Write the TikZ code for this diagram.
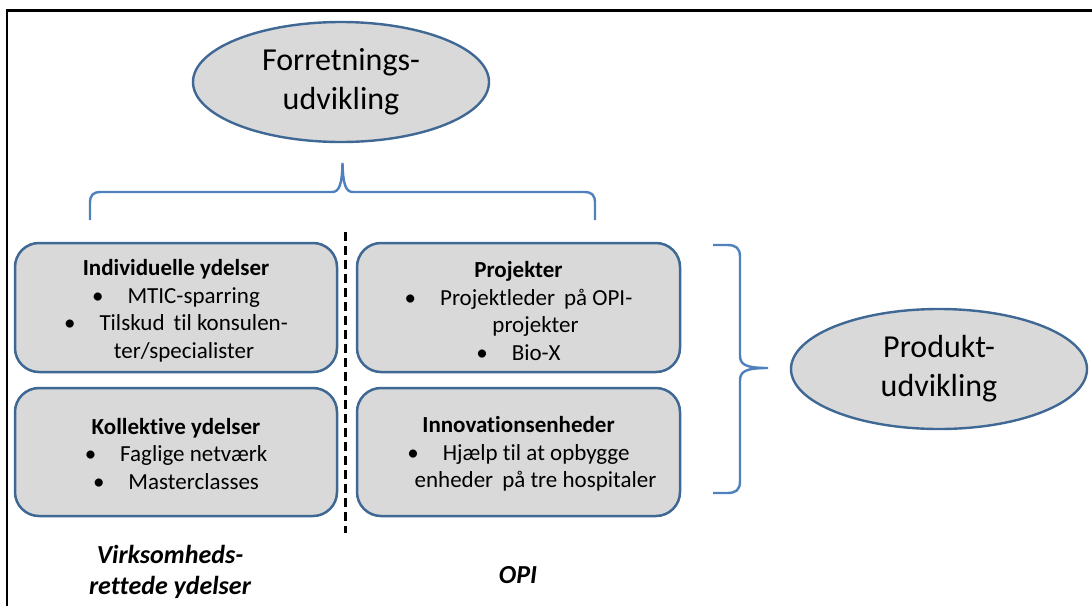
\documentclass[tikz,border=0pt]{standalone}
\usepackage{fontspec}
\setmainfont{Carlito}[Ligatures=NoCommon]
\usetikzlibrary{shapes.geometric}
\definecolor{boxfill}{HTML}{D9D9D9}
\definecolor{boxline}{HTML}{3F6895}
\definecolor{bracecol}{HTML}{4F81BD}
\tikzset{
  oval/.style={ellipse, draw=boxline, fill=boxfill, line width=2.4pt, inner sep=0pt,
    minimum width=296pt, minimum height=120pt, align=center,
    font=\fontsize{32pt}{39pt}\selectfont},
  card/.style={rectangle, rounded corners=24pt, draw=boxline, fill=boxfill, line width=2.5pt,
    inner sep=0pt, align=center, font=\fontsize{23pt}{27.5pt}\selectfont},
  brace/.style={draw=bracecol, line width=2.4pt},
  lbl/.style={align=center, inner sep=0pt, font=\fontsize{26pt}{31pt}\selectfont\bfseries\itshape},
  divider/.style={draw=black, line width=3pt, dash pattern=on 9pt off 5pt}
}
\newcommand{\bul}{\textbullet\hspace{24pt}}
\newcommand{\wsp}{\hspace{9pt}}
\begin{document}
\begin{tikzpicture}[x=1pt,y=-1pt]
\useasboundingbox (0,0) rectangle (1092,606);
\fill[white] (0,0) rectangle (1092,606);
% frame
\draw[line width=2.5pt] (7,606) -- (7,10.5) -- (1092,10.5);

% ellipses
\node[oval] (forr) at (341,82) {Forretnings-\\udvikling};
\node[oval] (prod) at (939,369) {Produkt-\\udvikling};

% boxes
\node[card, minimum width=322pt, minimum height=129pt] (ind) at (176,307.5)
  {\rule{0pt}{23pt}\textbf{Individuelle ydelser}\\ \bul MTIC-sparring\\ \bul Tilskud\wsp til konsulen-\\ \hspace*{16pt}ter/specialister};
\node[card, minimum width=322pt, minimum height=128pt] (kol) at (176,452)
  {\rule{0pt}{20pt}\textbf{Kollektive ydelser}\\ \bul Faglige netværk\\ \bul Masterclasses};
\node[card, minimum width=323pt, minimum height=129pt] (proj) at (518.5,307.5)
  {\rule{0pt}{23pt}\textbf{Projekter}\\ \bul Projektleder\wsp på OPI-\\ \hspace*{34pt}projekter\\ \bul Bio-X};
\node[card, minimum width=323pt, minimum height=128pt] (inno) at (518.5,452)
  {\rule{0pt}{20pt}\textbf{Innovationsenheder}\\ \bul Hjælp til at opbygge\\ \hspace*{34pt}enheder\wsp på tre hospitaler};

% divider
\coordinate (dtop) at (345,232);
\coordinate (dbot) at (345,533);
\draw[divider] (dtop) -- (dbot);

% top brace
\draw[brace] (90,220) -- (90,203) .. controls (90,195) and (93,192) .. (101,192) -- (332,192)
  .. controls (339,192) and (342,185) .. (342.5,163)
  .. controls (343,185) and (346,192) .. (353,192) -- (584,192)
  .. controls (592,192) and (595,195) .. (595,203) -- (595,220);

% right brace
\draw[brace] (713,245) -- (727,245) .. controls (736,245) and (740,248) .. (740,257) -- (740,355)
  .. controls (740,364) and (744,368) .. (768,368)
  .. controls (744,368) and (740,372) .. (740,381) -- (740,481)
  .. controls (740,490) and (736,493) .. (727,493) -- (713,493);

% bottom labels
\node[lbl] (virk) at (170,572) {Virksomheds-\\rettede ydelser};
\node[lbl] (opi) at (518,575) {OPI};
\end{tikzpicture}
\end{document}
